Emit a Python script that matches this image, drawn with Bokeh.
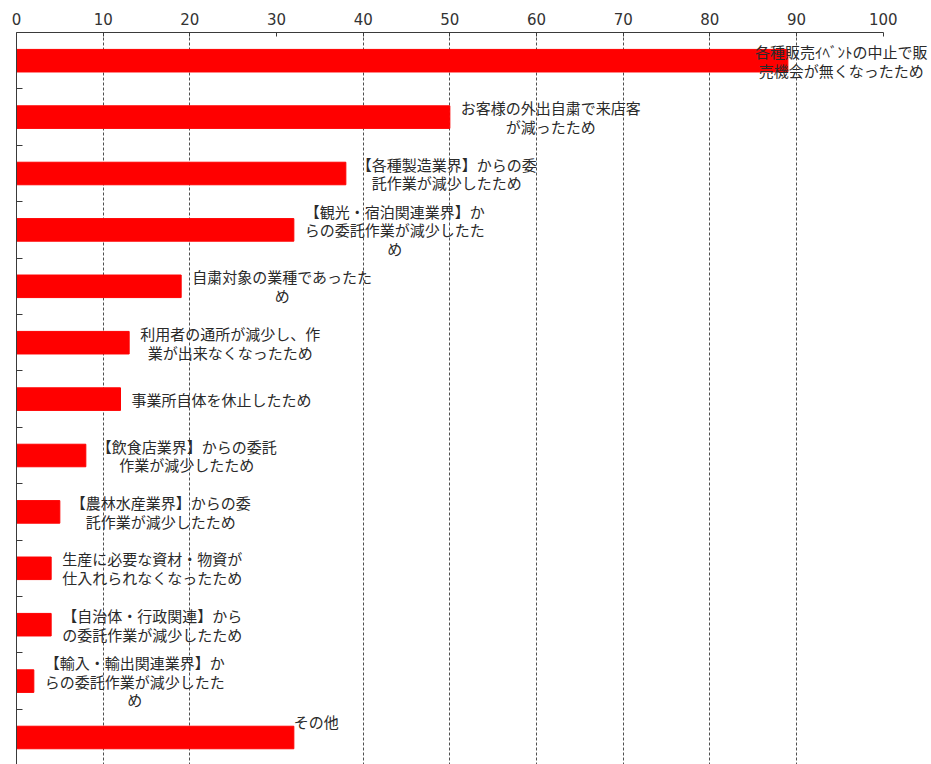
from bokeh.plotting import figure
from bokeh.models import ColumnDataSource, Range1d, FixedTicker
from bokeh.embed import file_html
from bokeh.resources import INLINE
from bokeh.core.properties import value

# ---- data ----
categories = [
    "各種販売ｲﾍﾞﾝﾄの中止で販\n売機会が無くなったため",
    "お客様の外出自粛で来店客\nが減ったため",
    "【各種製造業界】からの委\n託作業が減少したため",
    "【観光・宿泊関連業界】か\nらの委託作業が減少したた\nめ",
    "自粛対象の業種であったた\nめ",
    "利用者の通所が減少し、作\n業が出来なくなったため",
    "事業所自体を休止したため",
    "【飲食店業界】からの委託\n作業が減少したため",
    "【農林水産業界】からの委\n託作業が減少したため",
    "生産に必要な資材・物資が\n仕入れられなくなったため",
    "【自治体・行政関連】から\nの委託作業が減少したため",
    "【輸入・輸出関連業界】か\nらの委託作業が減少したた\nめ",
    "その他",
]
values = [89, 50, 38, 32, 19, 13, 12, 8, 5, 4, 4, 2, 32]
x_ticks = [0, 10, 20, 30, 40, 50, 60, 70, 80, 90, 100]
grid_ticks = [10, 20, 40, 50, 60, 70, 80, 90]  # the reference shows no grid line at 30

# ---- layout / style constants ----
FIG_W, FIG_H = 931, 764
BORDER_L, BORDER_T = 16, 32
FRAME_W = FIG_W - BORDER_L
FRAME_H = FIG_H - BORDER_T
PX_PER_UNIT = 8.667
PX_PER_BAND = 56.4
X_MAX = FRAME_W / PX_PER_UNIT
Y_MAX = FRAME_H / PX_PER_BAND
FONT_PX = 15.0
GAP = 11


def char_w(ch):
    o = ord(ch)
    if o < 0x7F or 0xFF61 <= o <= 0xFF9F:
        return 0.5 * FONT_PX
    return FONT_PX


def block_w(label):
    return max(sum(char_w(c) for c in line) for line in label.split("\n"))


n = len(categories)
ys = [i + 0.5 for i in range(n)]
dx, dy = [], []
for lab, v in zip(categories, values):
    w = block_w(lab)
    if lab == "その他":
        dx.append(w / 2)
        dy.append(-16)
        continue
    off = GAP + w / 2
    bar_end_px = v * PX_PER_UNIT
    limit = FRAME_W - 4 - w / 2
    if bar_end_px + off > limit:
        off = limit - bar_end_px
    dx.append(off)
    dy.append(0)

src = ColumnDataSource(dict(y=ys, value=values, label=categories, dx=dx, dy=dy))

p = figure(
    width=FIG_W, height=FIG_H,
    x_range=Range1d(0, X_MAX), y_range=Range1d(Y_MAX, 0),
    x_axis_location="above",
    output_backend="svg", toolbar_location=None,
    min_border_left=BORDER_L, min_border_top=BORDER_T,
    min_border_right=0, min_border_bottom=0,
)
p.outline_line_color = None
p.background_fill_color = "white"

AX = "#3a3a3a"
# top axis
xa = p.xaxis[0]
xa.ticker = FixedTicker(ticks=x_ticks)
xa.bounds = (0, 100)
xa.major_tick_in = 4
xa.major_tick_out = 0
xa.minor_tick_line_color = None
xa.axis_line_color = AX
xa.major_tick_line_color = AX
xa.major_label_text_font = "DejaVu Sans"
xa.major_label_text_font_size = "15px"
xa.major_label_text_color = "#333333"
xa.major_label_standoff = 8

# left axis (category boundaries as ticks, no labels)
bounds_ticks = list(range(1, n))
ya = p.yaxis[0]
ya.ticker = FixedTicker(ticks=bounds_ticks)
ya.major_label_overrides = {t: "" for t in bounds_ticks}
ya.major_label_text_color = None
ya.major_tick_in = 6
ya.major_tick_out = 0
ya.minor_tick_line_color = None
ya.axis_line_color = AX
ya.major_tick_line_color = AX
ya.major_label_standoff = 0

p.ygrid.visible = False
p.xgrid.ticker = FixedTicker(ticks=grid_ticks)
p.xgrid.grid_line_color = "#505050"
p.xgrid.grid_line_dash = "3 2"
p.xgrid.grid_line_width = 1

p.hbar(y="y", left=0, right="value", height=0.4, source=src,
       fill_color="#FF0000", line_color="#FF0000")

p.text(x="value", y="y", text="label", x_offset="dx", y_offset="dy",
       source=src, text_align="center", text_baseline="middle",
       text_font=value("Noto Sans CJK JP"), text_font_size="15px",
       text_color="#2a2a2a", text_line_height=0.9)

open("out.html", "w").write(file_html(p, INLINE))
